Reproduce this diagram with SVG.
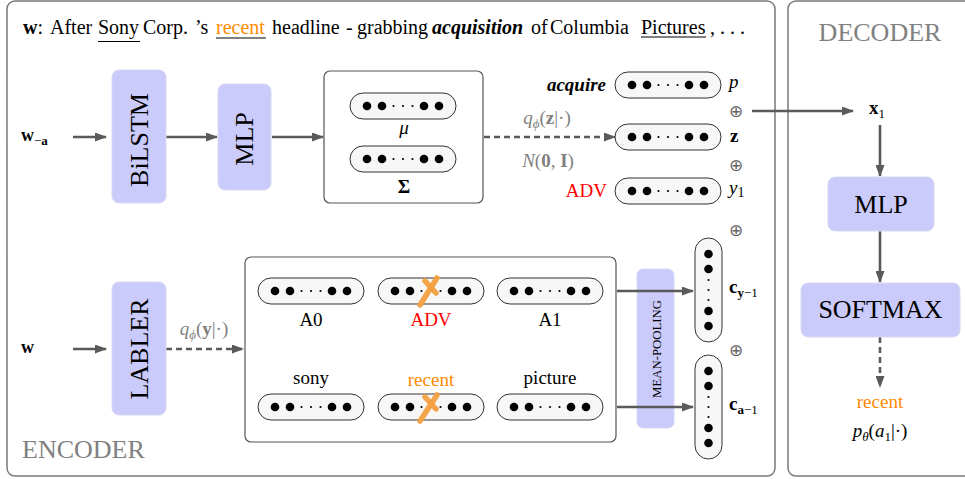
<svg xmlns="http://www.w3.org/2000/svg" xmlns:xlink="http://www.w3.org/1999/xlink" width="965" height="479" viewBox="0 0 965 479">
<style>
text{font-family:"Liberation Serif","Times New Roman",serif;fill:#000}
.frame{fill:#fff;stroke:#7a7a7a;stroke-width:1.5}
.box{fill:#fff;stroke:#555;stroke-width:1.2}
.nn{fill:#cbcbfb;stroke:#d8d8f4;stroke-width:1}
.pill{fill:#f7f7f7;stroke:#333;stroke-width:1}
.arr{stroke:#5a5a5a;stroke-width:2.6;fill:none;marker-end:url(#ah)}
.dash{stroke-dasharray:6 4}
.gray{fill:#808080}
.cross{stroke:#f4a040;stroke-width:5.5;stroke-linecap:round;opacity:.95}
.lbl{font-size:19px}
.big{font-size:26px}
.oplus{font-size:17px;fill:#666}
.it{font-style:italic}
.b{font-weight:bold}
</style>
<defs>
<marker id="ah" markerWidth="12" markerHeight="9" refX="11" refY="4.5" orient="auto" markerUnits="userSpaceOnUse">
<path d="M0,0 L12,4.5 L0,9 z" fill="#5a5a5a"/>
</marker>
<g id="hpill">
<rect class="pill" x="0" y="0" width="106" height="26" rx="13"/>
<g fill="#000">
<circle cx="17" cy="13" r="4.3"/><circle cx="32" cy="13" r="4.3"/>
<circle cx="43.5" cy="13" r="1.1"/><circle cx="53" cy="13" r="1.1"/><circle cx="62.5" cy="13" r="1.1"/>
<circle cx="74" cy="13" r="4.3"/><circle cx="89" cy="13" r="4.3"/>
</g>
</g>
<g id="vpill">
<rect class="pill" x="0" y="0" width="27" height="104" rx="13.5"/>
<g fill="#000">
<circle cx="13.5" cy="16" r="4.3"/><circle cx="13.5" cy="31" r="4.3"/>
<circle cx="13.5" cy="42" r="1.1"/><circle cx="13.5" cy="52" r="1.1"/><circle cx="13.5" cy="62" r="1.1"/>
<circle cx="13.5" cy="73" r="4.3"/><circle cx="13.5" cy="88" r="4.3"/>
</g>
</g>
</defs>

<g id="encoder-frame">
<rect class="frame" x="7" y="1" width="768" height="475" rx="8"/>
<text x="22" y="458" class="big gray">ENCODER</text>
</g>
<g id="decoder-frame">
<rect class="frame" x="788" y="1" width="190" height="475" rx="8"/>
<text x="880" y="41" class="big gray" text-anchor="middle">DECODER</text>
</g>

<g id="sentence">
<text y="34" font-size="20"><tspan x="23" class="b">w</tspan>:<tspan x="50">After</tspan><tspan x="98">Sony</tspan><tspan x="143">Corp.</tspan><tspan x="195">’s</tspan><tspan x="216" style="fill:#ff8a00">recent</tspan><tspan x="272">headline</tspan><tspan x="346">-</tspan><tspan x="357">grabbing</tspan><tspan x="432" class="b it">acquisition</tspan><tspan x="531">of</tspan><tspan x="550">Columbia</tspan><tspan x="641">Pictures</tspan><tspan x="710">,</tspan><tspan x="720">. . .</tspan></text>
<g stroke="#000" stroke-width="1">
<line x1="98" y1="41.5" x2="140" y2="41.5"/>
<line x1="216" y1="38" x2="266" y2="38"/>
<line x1="641" y1="37" x2="706" y2="37"/>
</g>
</g>

<g id="connectors">
<line class="arr" x1="73" y1="137" x2="106" y2="137"/>
<line class="arr" x1="166" y1="137" x2="217" y2="137"/>
<line class="arr" x1="272" y1="137" x2="323" y2="137"/>
<line class="arr dash" x1="484" y1="137" x2="615" y2="137"/>
<line class="arr" x1="752" y1="111" x2="853" y2="111"/>
<line class="arr" x1="880" y1="125" x2="880" y2="176"/>
<line class="arr" x1="880" y1="231" x2="880" y2="282"/>
<line class="arr dash" x1="880" y1="337" x2="880" y2="387"/>
<line class="arr" x1="73" y1="349" x2="106" y2="349"/>
<line class="arr dash" x1="166" y1="349" x2="243" y2="349"/>
</g>

<g id="w-a">
<text x="21" y="141" font-size="18"><tspan class="b">w</tspan><tspan font-size="13" dy="4">−</tspan><tspan font-size="13" class="b">a</tspan></text>
</g>
<g id="w">
<text x="21" y="353" font-size="18" class="b">w</text>
</g>

<g id="bilstm">
<rect class="nn" x="112" y="70" width="54" height="133" rx="7"/>
<text class="big" text-anchor="middle" transform="translate(147.5,140) rotate(-90)">BiLSTM</text>
</g>
<g id="mlp-enc">
<rect class="nn" x="218" y="84" width="53" height="106" rx="7"/>
<text class="big" text-anchor="middle" transform="translate(252.5,139) rotate(-90)">MLP</text>
</g>
<g id="gaussian">
<rect class="box" x="324" y="71" width="159" height="132" rx="6"/>
<use xlink:href="#hpill" x="350" y="93"/>
<text x="404" y="134" class="lbl it" text-anchor="middle">μ</text>
<use xlink:href="#hpill" x="350" y="146"/>
<text x="404" y="193" class="lbl b" text-anchor="middle">Σ</text>
</g>

<g id="q-z-label">
<text x="547" y="124" class="lbl gray" text-anchor="middle"><tspan class="it">q</tspan><tspan font-size="13" dy="4" class="it">ϕ</tspan><tspan dy="-4">(</tspan><tspan class="b">z</tspan>|·)</text>
<text x="548" y="167" class="lbl gray" text-anchor="middle"><tspan class="it">N</tspan>(<tspan class="b">0</tspan>, <tspan class="b">I</tspan>)</text>
</g>

<g id="p-vec">
<text x="606" y="91" class="lbl b it" text-anchor="end">acquire</text>
<use xlink:href="#hpill" x="615" y="72"/>
<text x="729" y="88" class="lbl it">p</text>
</g>
<g id="z-vec">
<use xlink:href="#hpill" x="615" y="124"/>
<text x="730" y="142" class="lbl b">z</text>
</g>
<g id="y1-vec">
<text x="607" y="197" class="lbl" style="fill:#ff0000" text-anchor="end">ADV</text>
<use xlink:href="#hpill" x="615" y="178"/>
<text x="729" y="194" class="lbl"><tspan class="it">y</tspan><tspan font-size="14" dy="3">1</tspan></text>
</g>
<g id="oplus">
<text x="736" y="117" class="oplus" text-anchor="middle">⊕</text>
<text x="736" y="171" class="oplus" text-anchor="middle">⊕</text>
<text x="736" y="236" class="oplus" text-anchor="middle">⊕</text>
<text x="736" y="356" class="oplus" text-anchor="middle">⊕</text>
</g>

<g id="labler">
<rect class="nn" x="112" y="282" width="54" height="133" rx="7"/>
<text class="big" text-anchor="middle" transform="translate(147.5,349) rotate(-90)">LABLER</text>
</g>
<g id="q-y-label">
<text x="204" y="335" class="lbl gray" text-anchor="middle"><tspan class="it">q</tspan><tspan font-size="13" dy="4" class="it">ϕ</tspan><tspan dy="-4">(</tspan><tspan class="b">y</tspan>|·)</text>
</g>

<g id="args">
<rect class="box" x="245" y="257" width="371" height="185" rx="6"/>
<use xlink:href="#hpill" x="258" y="278"/>
<use xlink:href="#hpill" x="378" y="278"/>
<use xlink:href="#hpill" x="497" y="278"/>
<text x="311" y="326" class="lbl" text-anchor="middle">A0</text>
<text x="431" y="326" class="lbl" style="fill:#ff0000" text-anchor="middle">ADV</text>
<text x="550" y="326" class="lbl" text-anchor="middle">A1</text>
<text x="311" y="384" class="lbl" text-anchor="middle">sony</text>
<text x="431" y="386" class="lbl" style="fill:#ff8a00" text-anchor="middle">recent</text>
<text x="550" y="384" class="lbl" text-anchor="middle">picture</text>
<use xlink:href="#hpill" x="258" y="394"/>
<use xlink:href="#hpill" x="378" y="394"/>
<use xlink:href="#hpill" x="497" y="394"/>
<line class="cross" x1="437" y1="278" x2="420" y2="305"/>
<line class="cross" x1="425" y1="281" x2="436" y2="293"/>
<line class="cross" x1="437" y1="395" x2="420" y2="421"/>
<line class="cross" x1="425" y1="397" x2="436" y2="409"/>
</g>

<g id="mean-pooling">
<rect class="nn" x="637" y="269" width="37" height="159" rx="6"/>
<text font-size="12.8" text-anchor="middle" transform="translate(660.5,349) rotate(-90)">MEAN-POOLING</text>
</g>

<g id="pool-connectors">
<line class="arr" x1="617" y1="291" x2="693" y2="291"/>
<line class="arr" x1="617" y1="407" x2="693" y2="407"/>
</g>

<g id="c-y">
<use xlink:href="#vpill" x="695" y="238"/>
<text x="729" y="293" class="lbl b">c<tspan font-size="13" dy="4">y</tspan><tspan font-size="13" font-weight="normal">−1</tspan></text>
</g>
<g id="c-a">
<use xlink:href="#vpill" x="695" y="355"/>
<text x="729" y="410" class="lbl b">c<tspan font-size="13" dy="4">a</tspan><tspan font-size="13" font-weight="normal">−1</tspan></text>
</g>

<g id="x1">
<text x="869" y="114" class="lbl b">x<tspan font-size="13" dy="4" font-weight="normal">1</tspan></text>
</g>
<g id="mlp-dec">
<rect class="nn" x="828" y="177" width="106" height="54" rx="7"/>
<text x="881" y="213" class="big" text-anchor="middle">MLP</text>
</g>
<g id="softmax">
<rect class="nn" x="801" y="283" width="159" height="54" rx="7"/>
<text x="880.5" y="318" class="big" text-anchor="middle">SOFTMAX</text>
</g>
<g id="output">
<text x="880" y="408" class="lbl" style="fill:#ff8a00" text-anchor="middle">recent</text>
<text x="880" y="437" class="lbl" text-anchor="middle"><tspan class="it">p</tspan><tspan font-size="13" dy="4" class="it">θ</tspan><tspan dy="-4">(</tspan><tspan class="it">a</tspan><tspan font-size="13" dy="4">1</tspan><tspan dy="-4">|·)</tspan></text>
</g>
</svg>
